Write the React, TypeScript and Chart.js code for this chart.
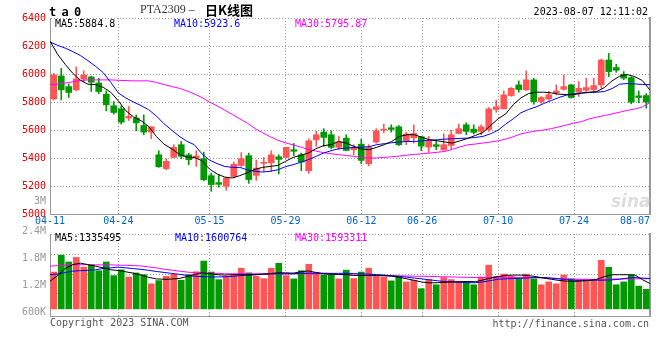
import React, { useEffect, useRef } from 'react';
import { Chart, registerables } from 'chart.js';

Chart.register(...registerables);

// ---------------- data ----------------
const dates = [
  '04-11', '04-12', '04-13', '04-14', '04-17', '04-18', '04-19', '04-20', '04-21', '04-24', '04-25', '04-26', '04-27', '04-28',
  '05-04', '05-05', '05-08', '05-09', '05-10', '05-11', '05-12', '05-15', '05-16', '05-17', '05-18', '05-19', '05-22', '05-23',
  '05-24', '05-25', '05-26', '05-29', '05-30', '05-31',
  '06-01', '06-02', '06-05', '06-06', '06-07', '06-08', '06-09', '06-12', '06-13', '06-14', '06-15', '06-16', '06-19', '06-20',
  '06-21', '06-26', '06-27', '06-28', '06-29', '06-30',
  '07-03', '07-04', '07-05', '07-06', '07-07', '07-10', '07-11', '07-12', '07-13', '07-14', '07-17', '07-18', '07-19', '07-20',
  '07-21', '07-24', '07-25', '07-26', '07-27', '07-28', '07-31',
  '08-01', '08-02', '08-03', '08-04', '08-07',
];

const open = [
  5822, 5986, 5910, 5887, 5965, 5979, 5936, 5856, 5773, 5751,
  5685, 5685, 5632, 5585, 5423, 5324, 5404, 5495, 5423, 5400,
  5395, 5274, 5224, 5198, 5267, 5347, 5416, 5276, 5362, 5366,
  5409, 5404, 5459, 5423, 5309, 5530, 5585, 5566, 5476, 5542,
  5459, 5499, 5359, 5514, 5599, 5616, 5623, 5518, 5544, 5552,
  5478, 5495, 5457, 5490, 5575, 5637, 5606, 5590, 5604, 5746,
  5751, 5846, 5922, 5887, 5958, 5803, 5822, 5865, 5891, 5922,
  5870, 5884, 5889, 5922, 6100, 6046, 5998, 5974, 5844, 5846,
];
const high = [
  6005, 6041, 5929, 6050, 6022, 5986, 5970, 5879, 5803, 5772,
  5768, 5708, 5708, 5623, 5452, 5395, 5495, 5518, 5435, 5452,
  5442, 5293, 5281, 5262, 5371, 5438, 5435, 5385, 5404, 5452,
  5423, 5476, 5504, 5435, 5537, 5590, 5609, 5594, 5554, 5566,
  5495, 5533, 5495, 5609, 5642, 5637, 5632, 5585, 5637, 5554,
  5554, 5523, 5573, 5599, 5642, 5651, 5637, 5637, 5761, 5813,
  5879, 5903, 5951, 6022, 5970, 5839, 5875, 5922, 5993, 5927,
  5946, 5970, 5970, 6107, 6148, 6069, 6017, 5981, 5879, 5860,
];
const low = [
  5815, 5815, 5832, 5880, 5946, 5875, 5860, 5737, 5713, 5642,
  5668, 5594, 5566, 5537, 5333, 5316, 5404, 5395, 5352, 5340,
  5238, 5162, 5191, 5169, 5258, 5340, 5219, 5240, 5303, 5303,
  5286, 5400, 5417, 5309, 5290, 5483, 5483, 5466, 5459, 5452,
  5423, 5360, 5345, 5506, 5580, 5585, 5488, 5495, 5506, 5452,
  5438, 5459, 5457, 5464, 5575, 5566, 5571, 5566, 5590, 5727,
  5751, 5841, 5870, 5882, 5784, 5791, 5813, 5851, 5884, 5827,
  5839, 5870, 5879, 5898, 5981, 6012, 5960, 5787, 5794, 5756,
];
const close = [
  5993, 5887, 5868, 5965, 5993, 5941, 5875, 5780, 5725, 5656,
  5697, 5651, 5585, 5623, 5338, 5376, 5476, 5412, 5388, 5414,
  5245, 5210, 5212, 5257, 5355, 5395, 5246, 5328, 5369, 5423,
  5390, 5476, 5448, 5371, 5523, 5566, 5547, 5476, 5514, 5454,
  5476, 5383, 5476, 5594, 5606, 5604, 5495, 5571, 5575, 5485,
  5523, 5483, 5495, 5566, 5609, 5590, 5583, 5623, 5751, 5766,
  5851, 5898, 5889, 5958, 5803, 5832, 5851, 5879, 5910, 5832,
  5898, 5903, 5917, 6100, 6017, 6027, 5970, 5799, 5832, 5799,
];

const ma5 = [
  6235, 6141, 6069, 6005, 5955, 5927, 5924, 5905, 5870, 5808,
  5737, 5694, 5666, 5625, 5554, 5499, 5466, 5428, 5407, 5404,
  5381, 5321, 5286, 5264, 5257, 5274, 5295, 5319, 5333, 5340,
  5347, 5376, 5404, 5419, 5435, 5466, 5488, 5495, 5518, 5507,
  5483, 5464, 5459, 5476, 5495, 5518, 5554, 5566, 5566, 5547,
  5530, 5523, 5514, 5507, 5523, 5540, 5561, 5582, 5632, 5680,
  5715, 5781, 5829, 5860, 5870, 5870, 5865, 5856, 5853, 5853,
  5863, 5870, 5875, 5903, 5951, 5984, 5996, 5981, 5953, 5885,
];
const ma10 = [
  6228, 6205, 6185, 6160, 6132, 6095, 6055, 6010, 5940, 5865,
  5828, 5800, 5774, 5745, 5700, 5645, 5600, 5556, 5520, 5495,
  5430, 5385, 5360, 5340, 5333, 5333, 5315, 5305, 5300, 5305,
  5316, 5338, 5352, 5369, 5388, 5411, 5435, 5452, 5466, 5471,
  5476, 5478, 5480, 5495, 5502, 5509, 5514, 5518, 5518, 5523,
  5528, 5530, 5535, 5537, 5540, 5542, 5547, 5554, 5573, 5599,
  5642, 5680, 5723, 5746, 5765, 5789, 5810, 5832, 5849, 5858,
  5865, 5867, 5870, 5875, 5896, 5927, 5932, 5929, 5925, 5924,
];
const ma30 = [
  5922, 5929, 5935, 5944, 5955, 5958, 5958, 5958, 5958, 5955,
  5953, 5951, 5951, 5951, 5940, 5925, 5911, 5898, 5880, 5858,
  5832, 5800, 5772, 5742, 5711, 5680, 5648, 5610, 5580, 5552,
  5527, 5508, 5494, 5478, 5462, 5450, 5438, 5430, 5424, 5418,
  5412, 5403, 5400, 5400, 5404, 5409, 5414, 5420, 5426, 5430,
  5435, 5441, 5447, 5462, 5480, 5494, 5500, 5507, 5514, 5522,
  5535, 5552, 5572, 5583, 5593, 5600, 5610, 5622, 5636, 5650,
  5660, 5680, 5692, 5703, 5715, 5727, 5740, 5750, 5765, 5796,
];

// volumes in thousands of lots
const volume = [
  1940, 2830, 2470, 2710, 2195, 2315, 2010, 2470, 1750, 2060,
  1680, 1890, 1800, 1320, 1490, 1715, 1820, 1510, 1800, 1955,
  2520, 1940, 1540, 1715, 1800, 2140, 1900, 1715, 1595, 2140,
  2400, 1750, 1580, 2010, 2350, 1920, 1780, 1780, 1580, 2040,
  1595, 1940, 2140, 1715, 1680, 1475, 1715, 1420, 1510, 1064,
  1540, 1270, 1650, 1540, 1420, 1410, 1270, 1680, 2300, 1715,
  1835, 1715, 1580, 1835, 1580, 1270, 1420, 1320, 1780, 1580,
  1510, 1510, 1510, 2555, 2195, 1270, 1420, 1770, 1200, 1030,
];
const volMa5 = [
  1460, 1750, 2130, 2330, 2410, 2330, 2250, 2160, 2060, 2020,
  1950, 1880, 1780, 1660, 1580, 1560, 1570, 1600, 1700, 1800,
  1900, 1860, 1800, 1780, 1800, 1800, 1800, 1800, 1830, 1860,
  1900, 1900, 1880, 1950, 2000, 1920, 1850, 1820, 1810, 1810,
  1760, 1760, 1760, 1760, 1750, 1720, 1660, 1580, 1500, 1410,
  1370, 1380, 1400, 1420, 1430, 1440, 1430, 1520, 1620, 1700,
  1760, 1780, 1780, 1750, 1700, 1620, 1560, 1500, 1460, 1450,
  1470, 1500, 1560, 1700, 1800, 1800, 1800, 1790, 1540, 1335,
];
const volMa10 = [
  1800, 1840, 1910, 1990, 2010, 2030, 2060, 2130, 2160, 2200,
  2160, 2120, 2080, 2030, 1970, 1920, 1870, 1820, 1770, 1720,
  1700, 1690, 1680, 1690, 1710, 1750, 1780, 1800, 1820, 1840,
  1850, 1840, 1850, 1870, 1880, 1880, 1880, 1870, 1870, 1880,
  1860, 1840, 1830, 1810, 1780, 1750, 1710, 1670, 1620, 1580,
  1530, 1480, 1440, 1420, 1400, 1380, 1380, 1420, 1490, 1560,
  1580, 1600, 1610, 1630, 1650, 1650, 1620, 1580, 1540, 1510,
  1510, 1510, 1510, 1510, 1530, 1560, 1620, 1650, 1620, 1601,
];
const volMa30 = [
  2250, 2280, 2300, 2330, 2330, 2330, 2320, 2320, 2320, 2300,
  2300, 2280, 2260, 2210, 2160, 2090, 2040, 1990, 1940, 1910,
  1890, 1870, 1870, 1850, 1850, 1850, 1850, 1850, 1850, 1850,
  1850, 1850, 1850, 1850, 1850, 1850, 1850, 1840, 1820, 1800,
  1780, 1770, 1770, 1760, 1750, 1740, 1740, 1730, 1720, 1720,
  1710, 1700, 1690, 1680, 1670, 1660, 1650, 1650, 1640, 1640,
  1640, 1650, 1650, 1650, 1640, 1630, 1620, 1600, 1580, 1570,
  1560, 1560, 1550, 1560, 1570, 1580, 1580, 1580, 1590, 1593,
];

const xTickDates = ['04-11', '04-24', '05-15', '05-29', '06-12', '06-26', '07-10', '07-24', '08-07'];
const priceTicks = [5000, 5200, 5400, 5600, 5800, 6000, 6200, 6400];
const volTickValues = [2400, 1800, 1200, 600];
const volTickLabels = ['2.4M', '1.8M', '1.2M', '600K'];
const priceLegend = ['MA5:5884.8', 'MA10:5923.6', 'MA30:5795.87'];
const volLegend = ['MA5:1335495', 'MA10:1600764', 'MA30:1593311'];

// ---------------- styles ----------------
const MONO = '"DejaVu Sans Mono", "Liberation Mono", monospace';
const UP = '#ff5555';
const DOWN = '#009900';
const GRID = '#999999';
const MA_COLORS = ['#000000', '#0000ff', '#ff00ff'];
const VOL_GRID = [3944, 2848, 1820, 792];

const N = dates.length;
const candleX = (i: number) => i + 0.5;
const lineX = (i: number) => (i * N) / (N - 1);
const colorAt = (ctx: any) => (close[ctx.dataIndex] >= open[ctx.dataIndex] ? UP : DOWN);

const xTickBuild = (scale: any) => {
  scale.ticks = xTickDates.map((d) => ({ value: lineX(dates.indexOf(d)) }));
};

function maLine(label: string, values: number[], color: string) {
  return {
    type: 'line',
    label,
    data: values.map((v, i) => ({ x: lineX(i), y: v })),
    borderColor: color,
    borderWidth: 1,
    pointRadius: 0,
    pointHoverRadius: 0,
    fill: false,
    tension: 0,
    order: 1,
    yAxisID: 'y',
  };
}

function barSet(label: string, data: any[], thick: number, order: number) {
  return {
    type: 'bar',
    label,
    data,
    backgroundColor: colorAt,
    borderWidth: 0,
    grouped: false,
    barPercentage: 1,
    categoryPercentage: 1,
    maxBarThickness: thick,
    minBarLength: 1,
    order,
    yAxisID: 'y',
  };
}

const common = {
  responsive: false,
  animation: false,
  devicePixelRatio: 1,
  events: [],
  plugins: { legend: { display: false }, tooltip: { enabled: false } },
};

const rightBorder = {
  position: 'right',
  min: 0,
  max: 1,
  ticks: { display: false },
  grid: { display: false, drawTicks: false },
  border: { display: true, color: GRID, width: 2 },
  afterFit: (s: any) => { s.width = 0; },
};

function priceConfig(): any {
  return {
    type: 'bar',
    data: {
      datasets: [
        maLine('MA5', ma5, MA_COLORS[0]),
        maLine('MA10', ma10, MA_COLORS[1]),
        maLine('MA30', ma30, MA_COLORS[2]),
        barSet('body', dates.map((_, i) => ({ x: candleX(i), y: [open[i], close[i]] })), 6, 2),
        barSet('wick', dates.map((_, i) => ({ x: candleX(i), y: [low[i], high[i]] })), 1, 3),
      ],
    },
    options: {
      ...common,
      layout: { padding: { left: 0, right: 10, top: 18, bottom: 0 } },
      scales: {
        x: {
          type: 'linear',
          offset: false,
          min: 0,
          max: N,
          afterBuildTicks: xTickBuild,
          ticks: {
            autoSkip: false,
            maxRotation: 0,
            padding: 1,
            color: '#0066cc',
            font: { family: MONO, size: 10 },
            callback: (_v: any, idx: number) =>
              idx === xTickDates.length - 1 ? xTickDates[idx] + '     ' : xTickDates[idx],
          },
          grid: { color: GRID, drawTicks: false, offset: false },
          border: { display: true, color: GRID, dash: [1, 2] },
          afterFit: (s: any) => { s.height = 16; s.paddingLeft = 0; s.paddingRight = 0; },
        },
        y: {
          position: 'left',
          min: 5000,
          max: 6400,
          afterBuildTicks: (s: any) => { s.ticks = priceTicks.map((v) => ({ value: v })); },
          ticks: {
            autoSkip: false,
            padding: 4,
            color: '#dd0000',
            font: { family: MONO, size: 10 },
            callback: (v: any) => String(v),
          },
          grid: { color: GRID, drawTicks: false },
          border: { display: true, color: GRID, dash: [1, 2] },
          afterFit: (s: any) => { s.width = 50; },
        },
        yr: rightBorder,
      },
    },
  };
}

function volConfig(): any {
  return {
    type: 'bar',
    data: {
      datasets: [
        maLine('MA5', volMa5, MA_COLORS[0]),
        maLine('MA10', volMa10, MA_COLORS[1]),
        maLine('MA30', volMa30, MA_COLORS[2]),
        barSet('volume', volume.map((v, i) => ({ x: candleX(i), y: v })), 6, 2),
      ],
    },
    options: {
      ...common,
      layout: { padding: { left: 0, right: 10, top: 10, bottom: 8 } },
      scales: {
        x: {
          type: 'linear',
          offset: false,
          min: 0,
          max: N,
          afterBuildTicks: xTickBuild,
          ticks: { display: false },
          grid: { color: GRID, drawTicks: false, offset: false },
          border: { display: true, color: GRID, dash: [1, 2] },
          afterFit: (s: any) => { s.height = 0; s.paddingLeft = 0; s.paddingRight = 0; },
        },
        y: {
          position: 'left',
          weight: 0,
          min: -375,
          max: 3944,
          afterBuildTicks: (s: any) => { s.ticks = VOL_GRID.map((v) => ({ value: v })); },
          ticks: { display: false },
          grid: { color: GRID, drawTicks: false },
          border: { display: true, color: GRID, dash: [1, 2] },
          afterFit: (s: any) => { s.width = 0; },
        },
        yl: {
          position: 'left',
          weight: 1,
          min: 529.5,
          max: 2335.5,
          afterBuildTicks: (s: any) => { s.ticks = volTickValues.map((v) => ({ value: v })); },
          ticks: {
            autoSkip: false,
            padding: 4,
            color: '#999999',
            font: { family: MONO, size: 10 },
            callback: (_v: any, idx: number) => volTickLabels[idx],
          },
          grid: { display: false, drawTicks: false },
          border: { display: false },
          afterFit: (s: any) => { s.width = 50; },
        },
        yr: rightBorder,
      },
    },
  };
}

function Txt(props: any) {
  const { left, right, top, color = '#000', size = 10, family = MONO, weight = 'normal', lh = 12, style = {}, children } = props;
  return (
    <div
      style={{
        position: 'absolute',
        left,
        right,
        top,
        color,
        fontSize: size,
        fontFamily: family,
        fontWeight: weight,
        lineHeight: `${lh}px`,
        whiteSpace: 'pre',
        ...style,
      }}
    >
      {children}
    </div>
  );
}

export default function App() {
  const priceRef = useRef<HTMLCanvasElement>(null);
  const volRef = useRef<HTMLCanvasElement>(null);

  useEffect(() => {
    const pc = new Chart(priceRef.current as HTMLCanvasElement, priceConfig());
    const vc = new Chart(volRef.current as HTMLCanvasElement, volConfig());
    return () => {
      pc.destroy();
      vc.destroy();
    };
  }, []);

  return (
    <div style={{ position: 'absolute', left: 0, top: 0, width: 660, height: 360, background: '#fff', overflow: 'hidden' }}>
      <canvas ref={priceRef} width={660} height={230} style={{ position: 'absolute', left: 0, top: 0 }} />
      <canvas ref={volRef} width={660} height={102} style={{ position: 'absolute', left: 0, top: 224 }} />

      <Txt left={49} top={5} size={12} weight="bold" lh={14} style={{ letterSpacing: '-1px' }}>t a 0</Txt>
      <Txt left={140} top={3} size={12} family='"Liberation Serif", serif' color="#333" lh={13}>PTA2309 –</Txt>
      <Txt left={205} top={3} size={13} family='"Noto Sans CJK SC", sans-serif' weight="bold" lh={13}>日K线图</Txt>
      <Txt right={12} top={6}>2023-08-07 12:11:02</Txt>

      <Txt left={55} top={18} color={MA_COLORS[0]}>{priceLegend[0]}</Txt>
      <Txt left={174} top={18} color={MA_COLORS[1]}>{priceLegend[1]}</Txt>
      <Txt left={295} top={18} color={MA_COLORS[2]}>{priceLegend[2]}</Txt>

      <Txt right={614} top={195} color="#999999">3M</Txt>

      <Txt left={55} top={232} color={MA_COLORS[0]}>{volLegend[0]}</Txt>
      <Txt left={175} top={232} color={MA_COLORS[1]}>{volLegend[1]}</Txt>
      <Txt left={295} top={232} color={MA_COLORS[2]}>{volLegend[2]}</Txt>

      <Txt left={611} top={192} size={17} family='"DejaVu Sans", sans-serif' weight="bold" color="#dddddd" lh={18} style={{ fontStyle: 'italic' }}>sina</Txt>

      <Txt left={50} top={317} color="#555555">Copyright 2023 SINA.COM</Txt>
      <Txt right={11} top={318} color="#555555">http://finance.sina.com.cn</Txt>
    </div>
  );
}
